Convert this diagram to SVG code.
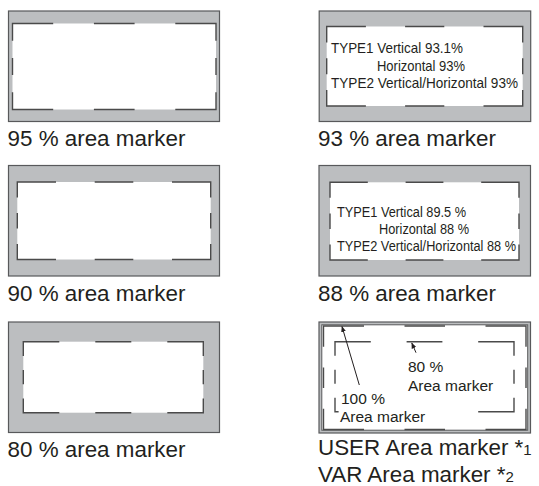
<svg xmlns="http://www.w3.org/2000/svg" width="539" height="486" viewBox="0 0 539 486">
<style>
.frame{fill:#bcbec0;stroke:#58595b;stroke-width:1.2}
.scr{fill:#ffffff}
.dash{fill:none;stroke:#4a4a4a;stroke-width:1.4}
.lbl{font-family:"Liberation Sans",Arial,sans-serif;font-size:22.4px;fill:#231f20}
.ta{font-family:"Liberation Sans",Arial,sans-serif;font-size:14.6px;fill:#231f20}
.tb{font-family:"Liberation Sans",Arial,sans-serif;font-size:14px;fill:#231f20}
.tc{font-family:"Liberation Sans",Arial,sans-serif;font-size:15.5px;fill:#231f20}
.arr{fill:none;stroke:#231f20;stroke-width:1}
</style>
<defs>
<marker id="ah" viewBox="0 0 10 10" refX="9" refY="5" markerWidth="6" markerHeight="6" orient="auto" markerUnits="userSpaceOnUse">
<path d="M0,1 L10,5 L0,9 z" fill="#231f20"/>
</marker>
</defs>

<g id="m95">
<rect class="frame" x="8.5" y="11" width="211" height="110.5"/>
<rect class="scr" x="12.5" y="23.5" width="203.5" height="86"/>
<path class="dash" d="M12.5,40.7V23.5H53.2 M93.9,23.5H134.6 M175.3,23.5H216V40.7 M12.5,57.9V75.1 M216,57.9V75.1 M12.5,92.3V109.5H53.2 M93.9,109.5H134.6 M175.3,109.5H216V92.3"/>
<text class="lbl" x="7.5" y="146">95 % area marker</text>
</g>

<g id="m93">
<rect class="frame" x="319.2" y="11" width="211.5" height="110.5"/>
<rect class="scr" x="326.7" y="26.5" width="196" height="79.5"/>
<path class="dash" d="M326.7,42.4V26.5H365.9 M405.1,26.5H444.3 M483.5,26.5H522.7V42.4 M326.7,58.3V74.2 M522.7,58.3V74.2 M326.7,90.1V106H365.9 M405.1,106H444.3 M483.5,106H522.7V90.1"/>
<text class="ta" x="331" y="53" textLength="132" lengthAdjust="spacingAndGlyphs">TYPE1 Vertical 93.1%</text>
<text class="ta" x="377" y="70.5" textLength="88" lengthAdjust="spacingAndGlyphs">Horizontal 93%</text>
<text class="ta" x="331" y="88" textLength="187" lengthAdjust="spacingAndGlyphs">TYPE2 Vertical/Horizontal 93%</text>
<text class="lbl" x="318" y="146">93 % area marker</text>
</g>

<g id="m90">
<rect class="frame" x="8.5" y="165.5" width="211" height="110.5"/>
<rect class="scr" x="17.3" y="182" width="193.4" height="77.5"/>
<path class="dash" d="M17.3,197.5V182H56 M94.7,182H133.3 M172,182H210.7V197.5 M17.3,213V228.5 M210.7,213V228.5 M17.3,244V259.5H56 M94.7,259.5H133.3 M172,259.5H210.7V244"/>
<text class="lbl" x="7.5" y="300.5">90 % area marker</text>
</g>

<g id="m88">
<rect class="frame" x="319" y="165.5" width="211.5" height="110.5"/>
<rect class="scr" x="330" y="182.3" width="189" height="77.7"/>
<path class="dash" d="M330,197.8V182.3H367.8 M405.6,182.3H443.4 M481.2,182.3H519V197.8 M330,213.4V228.9 M519,213.4V228.9 M330,244.5V260H367.8 M405.6,260H443.4 M481.2,260H519V244.5"/>
<text class="tb" x="337" y="217" textLength="129" lengthAdjust="spacingAndGlyphs">TYPE1 Vertical 89.5 %</text>
<text class="tb" x="379" y="234" textLength="90" lengthAdjust="spacingAndGlyphs">Horizontal 88 %</text>
<text class="tb" x="337" y="251" textLength="179" lengthAdjust="spacingAndGlyphs">TYPE2 Vertical/Horizontal 88 %</text>
<text class="lbl" x="318" y="300.5">88 % area marker</text>
</g>

<g id="m80">
<rect class="frame" x="8.5" y="322" width="211" height="110.5"/>
<rect class="scr" x="23.3" y="341.7" width="180" height="71"/>
<path class="dash" d="M23.3,355.9V341.7H59.3 M95.3,341.7H131.3 M167.3,341.7H203.3V355.9 M23.3,370.1V384.3 M203.3,370.1V384.3 M23.3,398.5V412.7H59.3 M95.3,412.7H131.3 M167.3,412.7H203.3V398.5"/>
<text class="lbl" x="7.5" y="456.5">80 % area marker</text>
</g>

<g id="muser">
<rect class="frame" x="319" y="322" width="211.5" height="111"/>
<rect x="321.8" y="324.8" width="205.9" height="105.4" fill="#ffffff" stroke="#58595b" stroke-width="1"/>
<path class="dash" d="M323.5,346.7V326H364 M404.5,326H445 M485.5,326H526V346.7 M323.5,367.4V388.1 M526,367.4V388.1 M323.5,408.8V429.5H364 M404.5,429.5H445 M485.5,429.5H526V408.8"/>
<path class="dash" d="M335,355.7V341.7H370.8 M406.6,341.7H442.4 M478.2,341.7H514V355.7 M335,369.7V383.7 M514,369.7V383.7 M335,397.7V411.7H370.8 M406.6,411.7H442.4 M478.2,411.7H514V397.7"/>
<rect x="338.6" y="387" width="105" height="39" fill="#ffffff"/>
<text class="tc" x="408" y="371.7">80 %</text>
<text class="tc" x="408" y="390.7">Area marker</text>
<text class="tc" x="341" y="404">100 %</text>
<text class="tc" x="340" y="421.7">Area marker</text>
<text class="lbl" x="318" y="455">USER Area marker *<tspan font-size="15">1</tspan></text>
<text class="lbl" x="318" y="482">VAR Area marker *<tspan font-size="15">2</tspan></text>
</g>

<g id="connectors">
<line class="arr" x1="359.3" y1="385" x2="342" y2="326.5" marker-end="url(#ah)"/>
<line class="arr" x1="416" y1="352.7" x2="411.8" y2="343" marker-end="url(#ah)"/>
</g>
</svg>
